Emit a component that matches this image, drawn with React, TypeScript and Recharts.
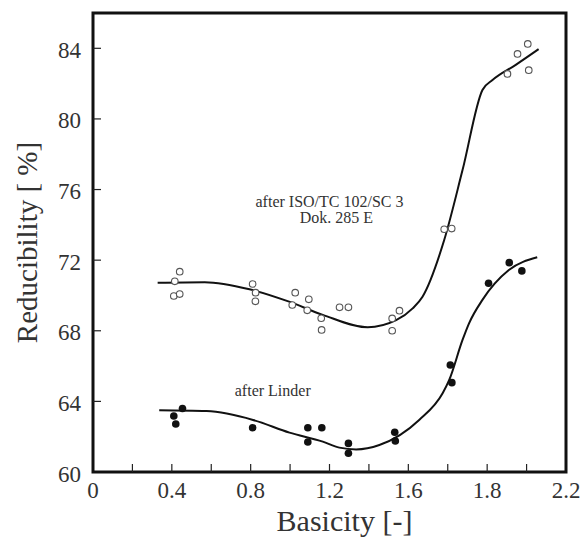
import React from "react";
import {
  ComposedChart,
  Line,
  Scatter,
  XAxis,
  YAxis,
  ReferenceArea,
  ReferenceDot,
  Label,
} from "recharts";

const SERIF = "'Liberation Serif', 'Times New Roman', serif";

// x ticks every 0.2, labels as printed on the original figure
const xTicks = [0, 0.2, 0.4, 0.6, 0.8, 1.0, 1.2, 1.4, 1.6, 1.8, 2.0, 2.2, 2.4];
const xTickLabels: Record<string, string> = {
  "0": "0",
  "0.4": "0.4",
  "0.8": "0.8",
  "1.2": "1.2",
  "1.6": "1.6",
  "2": "1.8",
  "2.4": "2.2",
};
const yTicks = [60, 64, 68, 72, 76, 80, 84];

// measured points, ISO/TC 102/SC 3 (open circles)
const isoPoints = [
  { x: 0.415, y: 70.8 },
  { x: 0.44, y: 71.35 },
  { x: 0.41, y: 69.97 },
  { x: 0.44, y: 70.08 },
  { x: 0.81, y: 70.65 },
  { x: 0.825, y: 70.16 },
  { x: 0.824, y: 69.67 },
  { x: 1.026, y: 70.16 },
  { x: 1.011, y: 69.46 },
  { x: 1.095, y: 69.78 },
  { x: 1.087, y: 69.16 },
  { x: 1.158, y: 68.71 },
  { x: 1.16, y: 68.05 },
  { x: 1.251, y: 69.33 },
  { x: 1.296, y: 69.33 },
  { x: 1.518, y: 68.7 },
  { x: 1.555, y: 69.14 },
  { x: 1.518, y: 68.0 },
  { x: 1.782, y: 73.75 },
  { x: 1.82, y: 73.79 },
  { x: 2.103, y: 82.55 },
  { x: 2.154, y: 83.68 },
  { x: 2.206, y: 84.25 },
  { x: 2.211, y: 82.76 },
];

// measured points, Linder (filled circles)
const linderPoints = [
  { x: 0.454, y: 63.6 },
  { x: 0.41, y: 63.17 },
  { x: 0.42, y: 62.72 },
  { x: 0.81, y: 62.51 },
  { x: 1.09, y: 62.51 },
  { x: 1.161, y: 62.51 },
  { x: 1.09, y: 61.7 },
  { x: 1.296, y: 61.62 },
  { x: 1.296, y: 61.06 },
  { x: 1.531, y: 62.25 },
  { x: 1.534, y: 61.76 },
  { x: 1.813, y: 66.06 },
  { x: 1.821, y: 65.06 },
  { x: 2.007, y: 70.69 },
  { x: 2.112, y: 71.86 },
  { x: 2.176, y: 71.39 },
];

// fitted curves
const isoCurve = [
  { x: 0.328, y: 70.72 },
  { x: 0.567, y: 70.75 },
  { x: 0.794, y: 70.35 },
  { x: 0.995, y: 69.65 },
  { x: 1.166, y: 68.9 },
  { x: 1.394, y: 68.2 },
  { x: 1.538, y: 68.6 },
  { x: 1.622, y: 69.27 },
  { x: 1.672, y: 69.93 },
  { x: 1.782, y: 73.14 },
  { x: 1.875, y: 77.1 },
  { x: 1.976, y: 81.64 },
  { x: 2.027, y: 82.2 },
  { x: 2.145, y: 83.06 },
  { x: 2.261, y: 83.95 },
];

const linderCurve = [
  { x: 0.336, y: 63.5 },
  { x: 0.576, y: 63.45 },
  { x: 0.812, y: 62.95 },
  { x: 0.997, y: 62.23 },
  { x: 1.166, y: 61.72 },
  { x: 1.25, y: 61.38 },
  { x: 1.335, y: 61.28 },
  { x: 1.453, y: 61.53 },
  { x: 1.655, y: 62.95 },
  { x: 1.774, y: 64.46 },
  { x: 1.807, y: 65.2 },
  { x: 1.875, y: 67.48 },
  { x: 1.908, y: 68.42 },
  { x: 1.976, y: 69.75 },
  { x: 2.11, y: 71.44 },
  { x: 2.254, y: 72.16 },
];

const notes = [
  { x: 1.2, y: 75.35, text: "after ISO/TC 102/SC 3" },
  { x: 1.235, y: 74.4, text: "Dok. 285 E" },
  { x: 0.912, y: 64.65, text: "after Linder" },
];

const XTick = (props: any) => {
  const { x, y, payload } = props;
  const v = Math.round(payload.value * 10) / 10;
  const label = xTickLabels[String(v)];
  const inner = v > 0 && v < 2.4;
  return (
    <g>
      {inner && <line x1={x} y1={y} x2={x} y2={y - 8} stroke="#222" strokeWidth={1.2} />}
      {label !== undefined && (
        <text
          x={x}
          y={y + 26}
          textAnchor="middle"
          fill="#333"
          style={{ fontFamily: SERIF, fontSize: 23 }}
        >
          {label}
        </text>
      )}
    </g>
  );
};

const YTick = (props: any) => {
  const { x, y, payload } = props;
  const inner = payload.value > 60;
  return (
    <g>
      {inner && <line x1={x} y1={y} x2={x + 8} y2={y} stroke="#222" strokeWidth={1.2} />}
      <text
        x={x - 12}
        y={y + 9.5}
        textAnchor="end"
        fill="#333"
        style={{ fontFamily: SERIF, fontSize: 23 }}
      >
        {payload.value}
      </text>
    </g>
  );
};

const openDot = (p: any) => (
  <circle cx={p.cx} cy={p.cy} r={3.3} fill="#fff" stroke="#555" strokeWidth={1.1} />
);
const filledDot = (p: any) => <circle cx={p.cx} cy={p.cy} r={3.8} fill="#111" />;

export default function App() {
  return (
    <div
      style={{
        position: "absolute",
        left: 0,
        top: 0,
        background: "#fff",
        fontFamily: SERIF,
      }}
    >
      <ComposedChart
        width={583}
        height={538}
        margin={{ top: 13, right: 17, bottom: 0, left: 0 }}
        style={{ fontFamily: SERIF }}
      >
        <XAxis
          type="number"
          dataKey="x"
          domain={[0, 2.4]}
          ticks={xTicks}
          interval={0}
          tick={<XTick />}
          tickSize={0}
          tickMargin={0}
          axisLine={false}
          tickLine={false}
          height={66}
        >
          <Label
            value="Basicity [-]"
            position="insideBottom"
            offset={7}
            dx={15}
            fill="#333"
            style={{ fontFamily: SERIF, fontSize: 30 }}
          />
        </XAxis>
        <YAxis
          type="number"
          dataKey="y"
          domain={[60, 86]}
          ticks={yTicks}
          interval={0}
          tick={<YTick />}
          tickSize={0}
          tickMargin={0}
          axisLine={false}
          tickLine={false}
          width={93}
        >
          <Label
            value="Reducibility [ %]"
            angle={-90}
            position="insideLeft"
            offset={27}
            fill="#333"
            style={{ textAnchor: "middle", fontFamily: SERIF, fontSize: 29 }}
          />
        </YAxis>
        <ReferenceArea
          x1={0}
          x2={2.4}
          y1={60}
          y2={86}
          fill="none"
          stroke="#111"
          strokeWidth={3}
          ifOverflow="visible"
        />
        <Line
          data={isoCurve}
          dataKey="y"
          type="monotone"
          stroke="#111"
          strokeWidth={2}
          dot={false}
          isAnimationActive={false}
        />
        <Line
          data={linderCurve}
          dataKey="y"
          type="monotone"
          stroke="#111"
          strokeWidth={2}
          dot={false}
          isAnimationActive={false}
        />
        <Scatter data={isoPoints} dataKey="y" shape={openDot} isAnimationActive={false} />
        <Scatter data={linderPoints} dataKey="y" shape={filledDot} isAnimationActive={false} />
        {notes.map((n) => (
          <ReferenceDot
            key={n.text}
            x={n.x}
            y={n.y}
            r={0}
            stroke="none"
            fill="none"
            label={{
              value: n.text,
              position: "center",
              fill: "#333",
              style: { fontFamily: SERIF, fontSize: 16 },
            }}
          />
        ))}
      </ComposedChart>
    </div>
  );
}
